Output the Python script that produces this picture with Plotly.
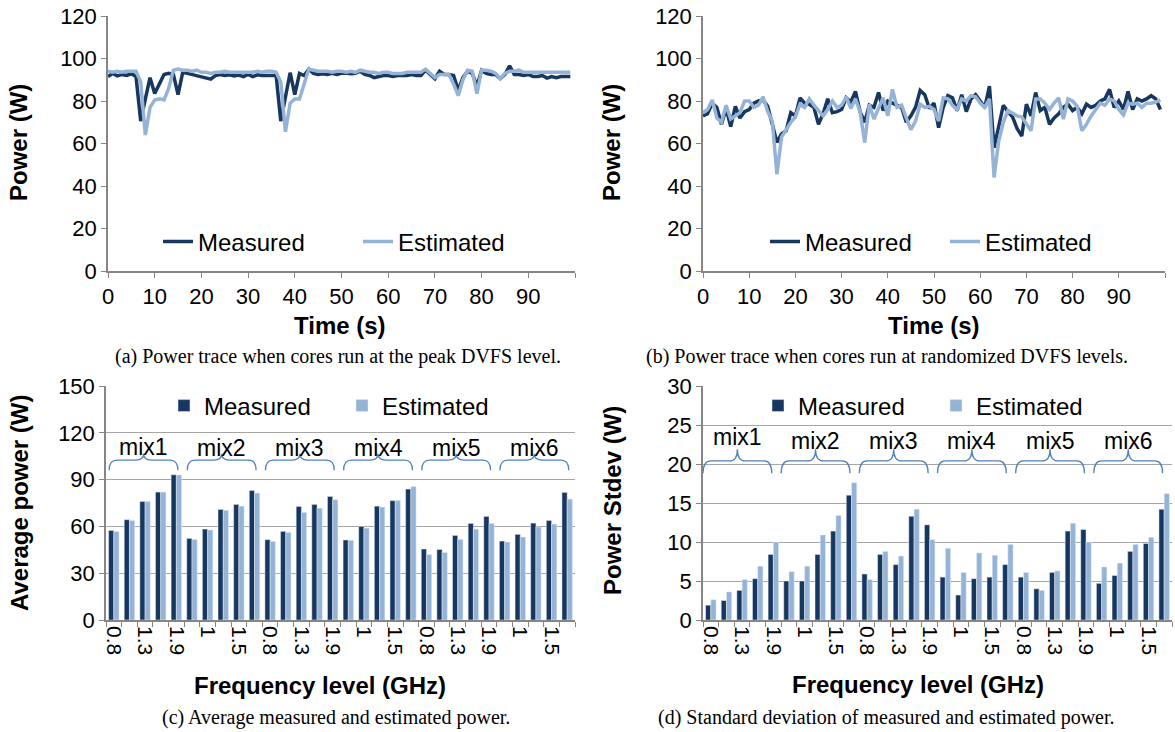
import plotly.graph_objects as go

# ---------------- data ----------------
time_s = list(range(100))
time_tick_labels = ["0", "10", "20", "30", "40", "50", "60", "70", "80", "90"]

peak_measured = [
    91.5, 93, 91.8, 92.5, 92, 92.8, 91.5,
    70.5, 81, 91, 83.5, 88, 92.5, 93, 92.5, 83, 93.5,
    93, 92.5, 92, 91.2, 91, 90.3, 92, 92.5, 92, 92.3, 91.8, 92.2, 91.5, 92.5, 91.5, 92.3, 92, 92, 92, 92,
    70.5, 82, 93.3, 83, 93, 92, 95,
    93, 92.5, 92.8, 92.5, 93, 92.5, 93, 93.2, 92.8, 93, 94, 92.5, 92, 91, 91.5, 92, 92, 91.5, 92, 91.8, 92, 92.5,
    92, 92, 94.5, 92.5, 90.5, 94, 92.5, 92.5, 92, 85, 91, 94, 93, 87, 94.5, 93, 92.5, 92.5, 90.5, 92.5,
    96.5, 92.5, 92.5, 92, 92.5, 91.5, 91.5, 92, 90.8, 91.5, 91, 91.5, 91.5, 91.5,
]
peak_estimated = [
    94, 93.5, 94, 93.5, 94, 94, 94,
    89, 64, 77, 80.5, 81, 80.5, 86, 94.5, 95, 94.5,
    94.5, 94, 94.5, 93.5, 93.5, 93, 93.5, 93.5, 94, 93.5, 93.5, 93.5, 93.5, 93.5, 93.5, 94, 93.5, 94, 94, 93.5,
    89, 65.5, 79, 81, 81, 88, 95,
    94.5, 94, 94, 94, 93.5, 94, 94, 93.5, 94, 93.5, 94.5, 94, 93.5, 93.5, 93, 93.5, 93.5, 93, 93, 93, 93.5, 93.5,
    93.5, 93.5, 95, 93, 91, 92.5, 92.5, 92.5, 88, 82.5, 90, 94.5, 94, 83.5, 94.5, 94.5, 94, 93, 90.5, 93,
    94, 94, 94.5, 93.5, 93.5, 93.5, 93.5, 93.5, 93.5, 93.5, 93.5, 93.5, 93.5, 93.5,
]

rand_measured = [
    73, 74, 79, 77, 69, 76.5, 68, 77.5, 72, 75,
    76, 79, 80, 80.5, 77.5, 69, 60.5, 64.5, 66, 74.5,
    73, 81.5, 79, 78.5, 77, 69, 74, 81, 74.5, 75,
    76, 81.5, 79.5, 84.5, 75, 70, 78, 77, 84, 75.5,
    80, 79, 78, 77, 70, 73, 77, 85, 83, 76.5,
    79, 67.5, 77, 82.5, 81.5, 75.5, 83, 75, 81, 83,
    80, 77, 87, 58, 68, 78, 75, 72.5, 67, 63.5,
    78.5, 73, 84, 75.5, 77, 69, 72, 74, 77, 78.5,
    75.5, 77, 74, 78.5, 77, 78, 80, 81, 85.5, 77,
    80, 76, 84.5, 76, 81, 80, 81, 82.5, 81, 76,
]
rand_estimated = [
    74.5, 76, 80.5, 72, 70, 78, 71.5, 73, 74.5, 80,
    80, 77, 78, 82, 75, 70.5, 45.5, 63, 66.5, 70,
    72.5, 78.5, 77, 81, 78, 75.5, 73, 76, 80, 77,
    78, 82, 76.5, 81, 75, 60.5, 78.5, 71.5, 77, 81.5,
    73, 85.5, 77, 78, 72, 66.5, 70.5, 78.5, 77, 77.5,
    76, 70.5, 81.5, 81, 78, 76, 81, 80, 82.5, 82,
    79, 77, 81, 44, 61, 70, 75.5, 74, 73, 72.5,
    69, 66, 81, 81, 79, 76, 79, 81.5, 71.5, 81,
    80, 77.5, 66, 69, 73, 76, 79, 78, 81, 80,
    76, 73.5, 79, 78.5, 79, 77, 79, 79, 79.5, 80.5,
]

mixes = ["mix1", "mix2", "mix3", "mix4", "mix5", "mix6"]
freq_levels = ["0.8", "1", "1.3", "1.5", "1.9"]

avg_measured = [57.4, 64.3, 76, 82, 93.1, 52.3, 58.3, 70.9, 74.1, 83,
                51.5, 56.8, 72.8, 74.1, 79.2, 51.3, 60, 73, 76.5, 83.9,
                45.5, 45.2, 54.2, 61.9, 66.4, 50.6, 54.9, 62.1, 63.8, 81.8]
avg_estimated = [56.8, 63.8, 76, 82, 93, 51.7, 57.7, 70.3, 73, 81.4,
                 50.4, 56.2, 69, 71.7, 77.1, 51.1, 58.9, 72.4, 76.7, 85.6,
                 42, 43.3, 51.7, 58.3, 61.9, 50, 53.2, 59.6, 61.5, 77.5]

std_measured = [1.9, 2.5, 3.8, 5.3, 8.4, 5.0, 5.0, 8.4, 11.4, 16.0,
                5.9, 8.4, 7.1, 13.3, 12.2, 5.5, 3.2, 5.3, 5.5, 7.1,
                5.5, 4.0, 6.1, 11.4, 11.6, 4.7, 5.7, 8.8, 9.8, 14.2]
std_estimated = [2.6, 3.6, 5.2, 6.9, 10.0, 6.2, 6.9, 10.9, 13.4, 17.6,
                 5.2, 8.8, 8.2, 14.2, 10.3, 9.2, 6.1, 8.6, 8.3, 9.7,
                 6.1, 3.8, 6.3, 12.4, 10.0, 6.8, 7.3, 9.7, 10.6, 16.2]

captions = [
    "(a) Power trace when cores run at the peak DVFS level.",
    "(b) Power trace when cores run at randomized DVFS levels.",
    "(c) Average measured and estimated power.",
    "(d) Standard deviation of measured and estimated power.",
]

for arr in (peak_measured, peak_estimated, rand_measured, rand_estimated):
    assert len(arr) == len(time_s)

# ---------------- styling ----------------
DARK = "#17375E"
LIGHT = "#95B3D7"
AXIS = "#868686"
GRID = "#A6A6A6"
BRACE = "#4F81BD"
SANS = "Liberation Sans, Arial, sans-serif"
SERIF = "Liberation Serif, Times New Roman, serif"
W, H = 1175, 732


def px_x(p):
    return p / W


def px_y(p):
    return 1 - p / H


cat_labels = [f for _ in mixes for f in freq_levels]
cat_pos = list(range(len(cat_labels)))

fig = go.Figure()

LW = 3.5
# (a)
fig.add_trace(go.Scatter(x=time_s, y=peak_measured, mode="lines", name="Measured",
                         line=dict(color=DARK, width=LW), xaxis="x", yaxis="y", legend="legend"))
fig.add_trace(go.Scatter(x=time_s, y=peak_estimated, mode="lines", name="Estimated",
                         line=dict(color=LIGHT, width=LW), xaxis="x", yaxis="y", legend="legend"))
# (b)
fig.add_trace(go.Scatter(x=time_s, y=rand_measured, mode="lines", name="Measured",
                         line=dict(color=DARK, width=LW), xaxis="x2", yaxis="y2", legend="legend2"))
fig.add_trace(go.Scatter(x=time_s, y=rand_estimated, mode="lines", name="Estimated",
                         line=dict(color=LIGHT, width=LW), xaxis="x2", yaxis="y2", legend="legend2"))
# (c)
fig.add_trace(go.Bar(x=cat_pos, y=avg_measured, name="Measured", marker_color=DARK,
                     xaxis="x3", yaxis="y3", legend="legend3", offsetgroup="m"))
fig.add_trace(go.Bar(x=cat_pos, y=avg_estimated, name="Estimated", marker_color=LIGHT,
                     xaxis="x3", yaxis="y3", legend="legend3", offsetgroup="e"))
# (d)
fig.add_trace(go.Bar(x=cat_pos, y=std_measured, name="Measured", marker_color=DARK,
                     xaxis="x4", yaxis="y4", legend="legend4", offsetgroup="m"))
fig.add_trace(go.Bar(x=cat_pos, y=std_estimated, name="Estimated", marker_color=LIGHT,
                     xaxis="x4", yaxis="y4", legend="legend4", offsetgroup="e"))

TICKFONT = dict(size=22, family=SANS, color="black")
common_ax = dict(showline=True, linecolor=AXIS, linewidth=1.5, ticks="outside", ticklen=5,
                 tickcolor=AXIS, tickwidth=1.3, zeroline=False, tickfont=TICKFONT, automargin=False)

time_vals = list(range(0, 101, 10))
time_text = time_tick_labels + [""]

dom_top_y = [px_y(271), px_y(16)]
dom_bot_y = [px_y(620), px_y(386)]

cat_ax = dict(range=[-0.5, 29.5], tickmode="array", tickvals=cat_pos[::2], ticktext=cat_labels[::2],
              tickangle=90, showgrid=False, showline=True, linecolor=AXIS, linewidth=1.5, ticks="",
              zeroline=False, automargin=False, tickfont=dict(size=21, family=SANS, color="black"),
              minor=dict(tickmode="linear", tick0=0.5, dtick=1, ticks="outside", ticklen=5,
                         tickcolor=AXIS, tickwidth=1.3, showgrid=False))

fig.update_layout(
    xaxis=dict(domain=[px_x(108), px_x(575)], anchor="y", range=[0, 100], tickmode="array",
               tickvals=time_vals, ticktext=time_text, showgrid=False, **common_ax),
    yaxis=dict(domain=dom_top_y, anchor="x", range=[0, 120], dtick=20, showgrid=False, **common_ax),
    xaxis2=dict(domain=[px_x(703), px_x(1165)], anchor="y2", range=[0, 100], tickmode="array",
                tickvals=time_vals, ticktext=time_text, showgrid=False, **common_ax),
    yaxis2=dict(domain=dom_top_y, anchor="x2", range=[0, 120], dtick=20, showgrid=False, **common_ax),
    xaxis3=dict(domain=[px_x(106), px_x(575)], anchor="y3", **cat_ax),
    yaxis3=dict(domain=dom_bot_y, anchor="x3", range=[0, 150], dtick=30, showgrid=True,
                gridcolor=GRID, gridwidth=1.3, **common_ax),
    xaxis4=dict(domain=[px_x(703), px_x(1172)], anchor="y4", **cat_ax),
    yaxis4=dict(domain=dom_bot_y, anchor="x4", range=[0, 30], dtick=5, showgrid=True,
                gridcolor=GRID, gridwidth=1.3, **common_ax),
)

leg_common = dict(orientation="h", xanchor="left", yanchor="middle", bgcolor="rgba(0,0,0,0)",
                  font=dict(size=24, family=SANS, color="black"), entrywidthmode="pixels", itemwidth=30)
fig.update_layout(
    legend=dict(x=px_x(158), y=px_y(242), entrywidth=155, **leg_common),
    legend2=dict(x=px_x(765), y=px_y(242), entrywidth=135, **leg_common),
    legend3=dict(x=px_x(164), y=px_y(406), entrywidth=133, **leg_common),
    legend4=dict(x=px_x(758), y=px_y(406), entrywidth=133, **leg_common),
)

annotations = []
# captions
for text, cx, cy in zip(captions, [338, 887, 336, 886], [356, 356, 717, 717]):
    annotations.append(dict(text=text, x=px_x(cx), y=px_y(cy), xref="paper", yref="paper",
                            showarrow=False, xanchor="center", yanchor="middle",
                            font=dict(family=SERIF, size=20, color="black")))
# axis titles
for text, cx, cy in [("Time (s)", 340, 325), ("Time (s)", 934, 325),
                     ("Frequency level (GHz)", 320, 685), ("Frequency level (GHz)", 918, 684)]:
    annotations.append(dict(text=f"<b>{text}</b>", x=px_x(cx), y=px_y(cy), xref="paper", yref="paper",
                            showarrow=False, xanchor="center", yanchor="middle",
                            font=dict(family=SANS, size=24, color="black")))
for text, cx, cy in [("Power (W)", 19, 143), ("Power (W)", 612, 143),
                     ("Average power (W)", 19, 503), ("Power Stdev (W)", 612, 501)]:
    annotations.append(dict(text=f"<b>{text}</b>", x=px_x(cx), y=px_y(cy), xref="paper", yref="paper",
                            showarrow=False, xanchor="center", yanchor="middle", textangle=-90,
                            font=dict(family=SANS, size=24, color="black")))

shapes = []


def brace_path(x0, x1, yb, yt, yp, dx=0.5):
    xm = (x0 + x1) / 2
    return (f"M {x0},{yb} Q {x0},{yt} {x0 + dx},{yt} L {xm - dx},{yt} "
            f"Q {xm},{yt} {xm},{yp} Q {xm},{yt} {xm + dx},{yt} L {x1 - dx},{yt} "
            f"Q {x1},{yt} {x1},{yb}")


n_f = len(freq_levels)
# (c) braces and mix labels
for k, m in enumerate(mixes):
    x0, x1 = n_f * k - 0.3, n_f * k + 4.1
    shapes.append(dict(type="path", xref="x3", yref="y3",
                       path=brace_path(x0, x1, 96, 102.5, 106.5),
                       line=dict(color=BRACE, width=1.3)))
    annotations.append(dict(text=m, x=(x0 + x1) / 2, y=111 if k == 0 else 110, xref="x3", yref="y3",
                            showarrow=False, xanchor="center", yanchor="middle",
                            font=dict(family=SANS, size=23, color="black")))
# (d) braces and mix labels
for k, m in enumerate(mixes):
    x0, x1 = n_f * k - 0.5, n_f * k + 3.9
    shapes.append(dict(type="path", xref="x4", yref="y4",
                       path=brace_path(x0, x1, 18.8, 20.4, 21.9),
                       line=dict(color=BRACE, width=1.3)))
    annotations.append(dict(text=m, x=(x0 + x1) / 2, y=23.5 if k == 0 else 23.0, xref="x4", yref="y4",
                            showarrow=False, xanchor="center", yanchor="middle",
                            font=dict(family=SANS, size=23, color="black")))

fig.update_layout(
    width=W, height=H, margin=dict(l=0, r=0, t=0, b=0, autoexpand=False),
    paper_bgcolor="white", plot_bgcolor="white",
    font=dict(family=SANS, size=21, color="black"),
    barmode="group", bargap=0.33, bargroupgap=0,
    annotations=annotations, shapes=shapes, showlegend=True,
)

fig.write_html("out.html", config={"displayModeBar": False},
               post_script="document.body.style.margin='0';document.body.style.overflow='hidden';")
